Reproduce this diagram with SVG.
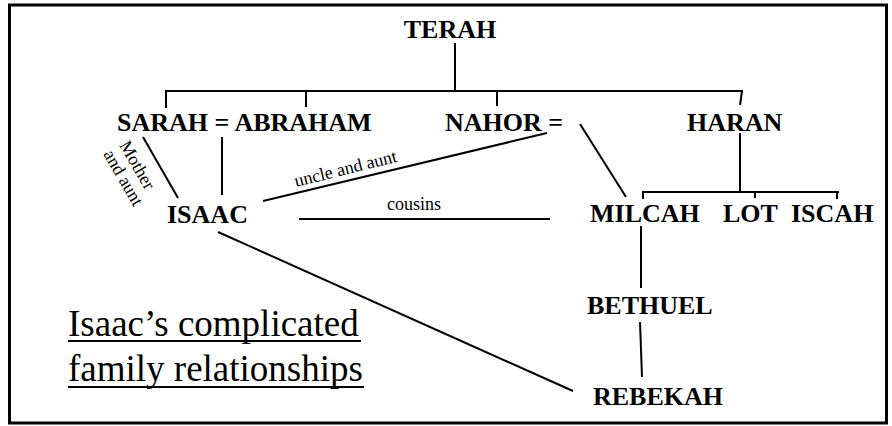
<svg xmlns="http://www.w3.org/2000/svg" width="892" height="426" viewBox="0 0 892 426">
<style>
.name{font-family:"Liberation Serif","Times New Roman",serif;font-weight:bold;font-size:26px;fill:#000}
.lbl{font-family:"Liberation Serif","Times New Roman",serif;font-size:18px;fill:#000}
.title{font-family:"Liberation Serif","Times New Roman",serif;font-size:37px;fill:#000}
.ln{stroke:#000;stroke-width:2;fill:none}
</style>
<rect x="9.5" y="5" width="877" height="418" fill="#fff" stroke="#000" stroke-width="3"/>
<g id="connectors">
<line class="ln" x1="455" y1="43" x2="455" y2="91"/>
<line class="ln" x1="165" y1="91" x2="743" y2="91"/>
<line class="ln" x1="166" y1="91" x2="166" y2="108"/>
<line class="ln" x1="306" y1="91" x2="306" y2="107"/>
<line class="ln" x1="497" y1="91" x2="497" y2="106"/>
<line class="ln" x1="742" y1="91" x2="740" y2="105"/>
<line class="ln" x1="143" y1="137" x2="178" y2="198"/>
<line class="ln" x1="222" y1="137" x2="222" y2="195"/>
<line class="ln" x1="263" y1="201" x2="547" y2="133"/>
<line class="ln" x1="299" y1="219" x2="550" y2="219"/>
<line class="ln" x1="580" y1="124" x2="626" y2="197"/>
<line class="ln" x1="740" y1="133" x2="740" y2="192"/>
<line class="ln" x1="642" y1="192" x2="839" y2="192"/>
<line class="ln" x1="643" y1="192" x2="643" y2="199"/>
<line class="ln" x1="755" y1="192" x2="755" y2="198"/>
<line class="ln" x1="837" y1="192" x2="837" y2="199"/>
<line class="ln" x1="641" y1="226" x2="641" y2="288"/>
<line class="ln" x1="640" y1="322" x2="642" y2="377"/>
<line class="ln" x1="218" y1="232" x2="573" y2="391" stroke-width="1.6"/>
<text class="lbl" transform="translate(119 145) rotate(60)">Mother</text>
<text class="lbl" transform="translate(103 154) rotate(60)">and aunt</text>
<text class="lbl" transform="translate(296 187) rotate(-14)">uncle and aunt</text>
<text class="lbl" x="387" y="210">cousins</text>
</g>
<g id="terah"><text class="name" x="450" y="38" text-anchor="middle">TERAH</text></g>
<g id="sarah-abraham"><text class="name" x="117" y="131">SARAH = ABRAHAM</text></g>
<g id="nahor"><text class="name" x="445" y="131">NAHOR =</text></g>
<g id="haran"><text class="name" x="687" y="131">HARAN</text></g>
<g id="isaac"><text class="name" x="167" y="223">ISAAC</text></g>
<g id="milcah"><text class="name" x="590" y="222">MILCAH</text></g>
<g id="lot"><text class="name" x="723" y="222">LOT</text></g>
<g id="iscah"><text class="name" x="791" y="222">ISCAH</text></g>
<g id="bethuel"><text class="name" x="587" y="314">BETHUEL</text></g>
<g id="rebekah"><text class="name" x="593" y="405">REBEKAH</text></g>
<g id="title">
<text class="title" x="68" y="336">Isaac’s complicated</text>
<line x1="68" y1="341" x2="361" y2="341" stroke="#000" stroke-width="2"/>
<text class="title" x="68" y="381">family relationships</text>
<line x1="68" y1="387" x2="364" y2="387" stroke="#000" stroke-width="2"/>
</g>
</svg>
